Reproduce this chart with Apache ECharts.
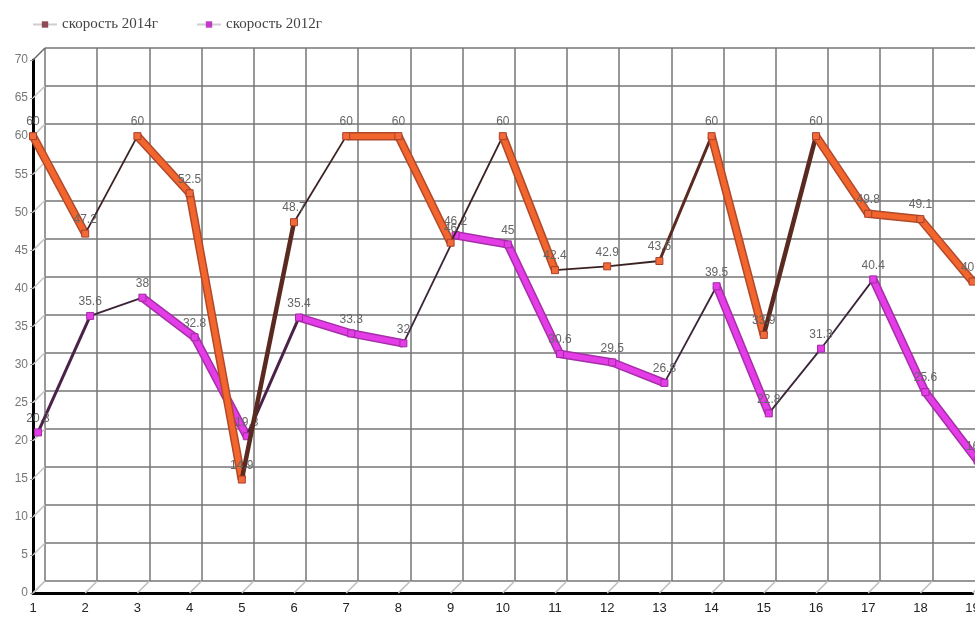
<!DOCTYPE html>
<html>
<head>
<meta charset="utf-8">
<script src="https://cdn.jsdelivr.net/npm/echarts@6/dist/echarts.min.js"></script>
<style>
html,body{margin:0;padding:0;background:#fff;}
#chart{width:975px;height:617px;}
</style>
</head>
<body>
<div id="chart"></div>
<script>
const categories = ['1','2','3','4','5','6','7','8','9','10','11','12','13','14','15','16','17','18','19'];
const speed2014 = [60, 47.2, 60, 52.5, 14.9, 48.7, 60, 60, 46, 60, 42.4, 42.9, 43.6, 60, 33.9, 60, 49.8, 49.1, 40.9];
const speed2012 = [20.3, 35.6, 38, 32.8, 19.8, 35.4, 33.3, 32, 46.2, 45, 30.6, 29.5, 26.8, 39.5, 22.8, 31.3, 40.4, 25.6, 16.6];
const yTickValues = [0, 5, 10, 15, 20, 25, 30, 35, 40, 45, 50, 55, 60, 65, 70];
const name2014 = 'скорость 2014г';
const name2012 = 'скорость 2012г';

const chart = echarts.init(document.getElementById('chart'));

function segData(vals) {
  const out = [];
  for (let i = 0; i < vals.length - 1; i++) out.push([i, vals[i], vals[i + 1]]);
  return out;
}

function segRenderer(fill, edge, upThin, upThick, bigRise, midRise) {
  return function (params, api) {
    const i = api.value(0), a = api.value(1), b = api.value(2);
    const p1 = api.coord([i, a]);
    const p2 = api.coord([i + 1, b]);
    const shape = { x1: p1[0], y1: p1[1], x2: p2[0], y2: p2[1] };
    if (b <= a) {
      return {
        type: 'group',
        children: [
          { type: 'line', shape: shape, style: { stroke: edge, lineWidth: 8.5, lineCap: 'butt' } },
          { type: 'line', shape: shape, style: { stroke: fill, lineWidth: 5.5, lineCap: 'butt' } }
        ]
      };
    }
    const rise = b - a;
    let w = 1.8, c = upThin;
    if (rise > bigRise) { w = 4.5; c = upThick; }
    else if (rise > midRise) { w = 3; c = upThick; }
    return { type: 'line', shape: shape, style: { stroke: c, lineWidth: w } };
  };
}

const FRONT = { left: 33, top: 60, width: 939.6, height: 533 };
const DX = 12, DY = 12;

const option = {
  backgroundColor: '#ffffff',
  animation: false,
  legend: {
    top: 12,
    left: 27,
    itemGap: 38,
    itemWidth: 24,
    itemHeight: 8,
    textStyle: { fontFamily: 'Liberation Serif', fontSize: 15, color: '#444' },
    data: [
      { name: name2014, itemStyle: { color: '#8e4a55', borderWidth: 0 }, lineStyle: { color: '#cfcfcf', width: 2, opacity: 1 } },
      { name: name2012, itemStyle: { color: '#c23ac8', borderWidth: 0 }, lineStyle: { color: '#cfcfcf', width: 2, opacity: 1 } }
    ]
  },
  grid: [
    { left: FRONT.left + DX, top: FRONT.top - DY, width: FRONT.width, height: FRONT.height, containLabel: false, outerBoundsMode: 'none' },
    { left: FRONT.left, top: FRONT.top, width: FRONT.width, height: FRONT.height, containLabel: false, outerBoundsMode: 'none' },
    { left: FRONT.left + 5, top: FRONT.top - 6, width: FRONT.width, height: FRONT.height, containLabel: false, outerBoundsMode: 'none' }
  ],
  xAxis: [
    { gridIndex: 0, type: 'category', data: categories, boundaryGap: false,
      axisLine: { show: false }, axisTick: { show: false }, axisLabel: { show: false },
      splitLine: { show: true, lineStyle: { color: '#767676', width: 1.5 } } },
    { gridIndex: 1, type: 'category', data: categories, boundaryGap: false,
      axisLine: { show: true, lineStyle: { color: '#000', width: 3 } },
      axisTick: { show: false },
      axisLabel: { show: true, color: '#222', fontSize: 13, margin: 9, fontFamily: 'Arial, Liberation Sans' },
      splitLine: { show: false } },
    { gridIndex: 2, type: 'category', data: categories, boundaryGap: false, show: false }
  ],
  yAxis: [
    { gridIndex: 0, type: 'value', min: 0, max: 70, interval: 5,
      axisLine: { show: false }, axisTick: { show: false }, axisLabel: { show: false },
      splitLine: { show: true, lineStyle: { color: '#767676', width: 1.5 } } },
    { gridIndex: 1, type: 'value', min: 0, max: 70, interval: 5,
      axisLine: { show: true, lineStyle: { color: '#000', width: 3 } },
      axisTick: { show: true, length: 3, lineStyle: { color: '#999' } },
      axisLabel: { show: true, color: '#777', fontSize: 12, margin: 5, fontFamily: 'Arial, Liberation Sans' },
      splitLine: { show: false } },
    { gridIndex: 2, type: 'value', min: 0, max: 70, interval: 5, show: false, splitLine: { show: false } }
  ],
  series: [
    {
      type: 'custom', name: 'floorDiag', xAxisIndex: 1, yAxisIndex: 1, silent: true, z: 1,
      data: categories.map((c, i) => [i]),
      renderItem: function (params, api) {
        const p = api.coord([api.value(0), 0]);
        return { type: 'line', shape: { x1: p[0], y1: p[1], x2: p[0] + DX, y2: p[1] - DY },
          style: { stroke: '#bdbdbd', lineWidth: 1.5 } };
      }
    },
    {
      type: 'custom', name: 'wallDiag', xAxisIndex: 1, yAxisIndex: 1, silent: true, z: 1,
      data: yTickValues.map(v => [0, v]),
      renderItem: function (params, api) {
        const p = api.coord([0, api.value(1)]);
        const top = api.value(1) === 70;
        return { type: 'line', shape: { x1: p[0], y1: p[1], x2: p[0] + DX, y2: p[1] - DY },
          style: { stroke: top ? '#666' : '#c4c4c4', lineWidth: 1.5 } };
      }
    },
    {
      type: 'custom', name: 'seg2012', xAxisIndex: 2, yAxisIndex: 2, silent: true, z: 3,
      data: segData(speed2012),
      renderItem: segRenderer('#e43de8', '#a62ea8', '#3b2438', '#4a2248', 20, 15)
    },
    {
      type: 'line', name: name2012, xAxisIndex: 2, yAxisIndex: 2, z: 4,
      data: speed2012,
      symbol: 'rect', symbolSize: 7,
      lineStyle: { width: 0, opacity: 0 },
      itemStyle: { color: '#e43de8', borderColor: '#a02ca2', borderWidth: 1 },
      label: { show: true, position: 'top', distance: 4, color: '#666', fontSize: 12, fontFamily: 'Arial, Liberation Sans' }
    },
    {
      type: 'custom', name: 'seg2014', xAxisIndex: 1, yAxisIndex: 1, silent: true, z: 5,
      data: segData(speed2014),
      renderItem: segRenderer('#f2662e', '#b0482a', '#3a2222', '#5a2a20', 20, 15)
    },
    {
      type: 'line', name: name2014, xAxisIndex: 1, yAxisIndex: 1, z: 6,
      data: speed2014,
      symbol: 'rect', symbolSize: 7,
      lineStyle: { width: 0, opacity: 0 },
      itemStyle: { color: '#f26a3a', borderColor: '#a8402a', borderWidth: 1 },
      label: { show: true, position: 'top', distance: 4, color: '#666', fontSize: 12, fontFamily: 'Arial, Liberation Sans' }
    }
  ]
};
chart.setOption(option);
</script>
</body>
</html>
